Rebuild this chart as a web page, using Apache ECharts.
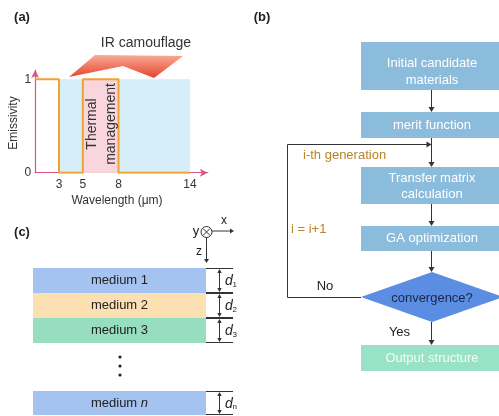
<!DOCTYPE html>
<html>
<head>
<meta charset="utf-8">
<script src="https://cdn.jsdelivr.net/npm/echarts@6/dist/echarts.min.js"></script>
<style>
  html, body { margin: 0; padding: 0; background: #fff; }
  #c { width: 499px; height: 416px; }
</style>
</head>
<body>
<div id="c"></div>
<script>
const FONT = '"Liberation Sans", Arial, sans-serif';

// (a) ideal emissivity profile against wavelength (µm)
const wavelength = [1, 3, 3, 5, 5, 8, 8, 14];
const emissivity = [1, 1, 0, 0, 1, 1, 0, 0];
const xTicks = [3, 5, 8, 14];
const yTicks = [0, 1];
const camouflageBand = [3, 14];
const thermalBand = [5, 8];

// (b) optimisation flow
const steps = ['Initial candidate\nmaterials', 'merit function', 'Transfer matrix\ncalculation',
               'GA optimization', 'convergence?', 'Output structure'];

// (c) multilayer stack
const layerNames = ['medium 1', 'medium 2', 'medium 3', 'medium {i|n}'];
const layerIndex = ['1', '2', '3', 'n'];

const chart = echarts.init(document.getElementById('c'), null, { renderer: 'canvas' });

const INK = '#333';
const AXIS = '#d9577c';
const ORANGE = '#f0a22e';
const g = [];

function txt(x, y, text, o = {}) {
  const align = o.align || 'center', va = o.va || 'middle';
  g.push({
    type: 'text', x, y, rotation: o.rot || 0, z: 20,
    style: {
      text, x: 0, y: 0, fill: o.fill || '#222',
      font: (o.font || '13px') + ' ' + FONT,
      align, verticalAlign: va, textAlign: align, textVerticalAlign: va,
      lineHeight: o.lh, rich: o.rich
    }
  });
}
function line(points, z = 15) {
  g.push({ type: 'polyline', z, shape: { points }, style: { stroke: INK, lineWidth: 1, fill: null } });
}
function head(x, y, dir, s = 5, w = 3) {
  let pts;
  if (dir === 'down') pts = [[x, y], [x - w, y - s], [x + w, y - s]];
  else if (dir === 'up') pts = [[x, y], [x - w, y + s], [x + w, y + s]];
  else pts = [[x, y], [x - s, y - w], [x - s, y + w]];
  g.push({ type: 'polygon', z: 16, shape: { points: pts }, style: { fill: INK } });
}
function rect(x, y, w, h, fill, z = 5) {
  g.push({ type: 'rect', z, shape: { x, y, width: w, height: h }, style: { fill } });
}

// ---------- panel (a) decorations ----------
txt(22, 17, '(a)', { font: 'bold 13px', align: 'center' });
txt(146, 43, 'IR camouflage', { font: '14px', fill: '#333' });
g.push({
  type: 'polygon', z: 6,
  shape: { points: [[69, 77], [95, 55], [183, 56], [154, 78], [123, 66]] },
  style: {
    fill: new echarts.graphic.LinearGradient(0, 1, 0, 0, [
      { offset: 0, color: '#e6432c' }, { offset: 1, color: '#f8ab96' }
    ])
  }
});
txt(101.5, 124, 'Thermal\nmanagement', { font: '14px', fill: '#333', rot: Math.PI / 2, lh: 19 });
txt(14, 123, 'Emissivity', { font: '12px', fill: '#333', rot: Math.PI / 2 });
txt(117, 201, 'Wavelength (μm)', { font: '12px', fill: '#333' });

// ---------- panel (b) flow chart ----------
txt(262, 17, '(b)', { font: 'bold 13px' });
const BX = 361, BW = 142, CX = 432, AX = 431.5;
const BLUE = '#8cbcdc';
rect(BX, 42, BW, 48, BLUE);
txt(CX, 71.5, steps[0], { fill: '#fff', lh: 17 });
rect(BX, 112, BW, 26, BLUE);
txt(CX, 125, steps[1], { fill: '#fff' });
rect(BX, 167, BW, 37, BLUE);
txt(CX, 186, steps[2], { fill: '#fff', lh: 16 });
rect(BX, 226, BW, 25, BLUE);
txt(CX, 238.5, steps[3], { fill: '#fff' });
g.push({ type: 'polygon', z: 5, shape: { points: [[361, 297], [CX, 272], [503, 297], [CX, 322]] },
  style: { fill: '#5b8de2' } });
txt(CX, 298, steps[4], { fill: '#18284a' });
rect(BX, 345, BW, 26, '#98e2c6');
txt(CX, 358, steps[5], { fill: '#f6fbfa' });

[[90, 112], [138, 167], [204, 226], [251, 272], [322, 345]].forEach(([a, b]) => {
  line([[AX, a], [AX, b - 1]]);
  head(AX, b, 'down');
});
line([[361, 297.5], [287.5, 297.5], [287.5, 144.5], [AX - 1, 144.5]]);
head(AX, 144.5, 'right');
txt(303, 155, 'i-th generation', { fill: '#b5832b', align: 'left' });
txt(291, 229, 'i = i+1', { fill: '#b5832b', align: 'left' });
txt(325, 286, 'No', { fill: '#222' });
txt(399.5, 332, 'Yes', { fill: '#222' });

// ---------- panel (c) layered stack ----------
txt(22, 232, '(c)', { font: 'bold 13px' });
const layerColors = ['#a5c3f0', '#fde0b2', '#96debe', '#a5c3f0'];
const layerY = [[268, 293], [293, 318], [318, 343], [391, 415]];
layerY.forEach(([t, b], i) => {
  rect(33, t, 173, b - t, layerColors[i]);
  txt(119.5, (t + b) / 2, layerNames[i], {
    fill: '#222',
    rich: { i: { fontStyle: 'italic', fontSize: 13, fontFamily: FONT, fill: '#222' } }
  });
  line([[206, t + 0.5], [233, t + 0.5]]);
  line([[206, b - 0.5], [233, b - 0.5]]);
  line([[219.5, t + 2], [219.5, b - 2]]);
  head(219.5, t + 1, 'up', 4, 2.2);
  head(219.5, b - 1, 'down', 4, 2.2);
  txt(225, (t + b) / 2 + 1, 'd', { font: 'italic 14px', align: 'left', fill: '#222' });
  txt(232.5, (t + b) / 2 + 4, layerIndex[i], { font: '8px', align: 'left', fill: '#222' });
});
[357, 366, 375].forEach(y => g.push({ type: 'circle', z: 10, shape: { cx: 120, cy: y, r: 1.6 }, style: { fill: '#222' } }));

// coordinate frame
g.push({ type: 'circle', z: 15, shape: { cx: 206.5, cy: 232, r: 5.5 }, style: { fill: '#fff', stroke: INK, lineWidth: 1 } });
line([[203, 228.5], [210, 235.5]]);
line([[210, 228.5], [203, 235.5]]);
txt(196, 231.5, 'y', { fill: '#222' });
line([[212, 231], [231, 231]]);
head(234, 231, 'right', 4, 2.5);
txt(224, 221, 'x', { fill: '#222', font: '12px' });
line([[206.5, 237.5], [206.5, 259]]);
head(206.5, 263, 'down', 4, 2.5);
txt(199, 252, 'z', { fill: '#222', font: '12px' });

const axisCommon = {
  axisLine: { show: true, symbol: ['none', 'arrow'], symbolSize: [6, 8], lineStyle: { color: AXIS, width: 1.2 } },
  axisTick: { show: false },
  splitLine: { show: false }
};

chart.setOption({
  animation: false,
  grid: { left: 35.2, top: 70, width: 172.6, height: 102.7, containLabel: false, outerBoundsMode: 'none' },
  xAxis: Object.assign({
    type: 'value', min: 1, max: 15.5,
    axisLabel: { customValues: xTicks, margin: 6, color: '#333', fontSize: 12, fontFamily: FONT }
  }, axisCommon),
  yAxis: Object.assign({
    type: 'value', min: 0, max: 1.1,
    axisLabel: { customValues: yTicks, margin: 4, color: '#333', fontSize: 12, fontFamily: FONT }
  }, axisCommon),
  series: [
    {
      type: 'line', data: [], z: 1, silent: true,
      markArea: {
        silent: true,
        data: [
          [{ xAxis: camouflageBand[0], yAxis: 0, itemStyle: { color: '#d5eef8' } }, { xAxis: camouflageBand[1], yAxis: 1 }],
          [{ xAxis: thermalBand[0], yAxis: 0, itemStyle: { color: '#f9d5de' } }, { xAxis: thermalBand[1], yAxis: 1 }]
        ]
      }
    },
    {
      type: 'line', z: 3, symbol: 'none',
      data: wavelength.map((w, i) => [w, emissivity[i]]),
      lineStyle: { color: ORANGE, width: 2 }
    }
  ],
  graphic: { elements: g }
});
</script>
</body>
</html>
